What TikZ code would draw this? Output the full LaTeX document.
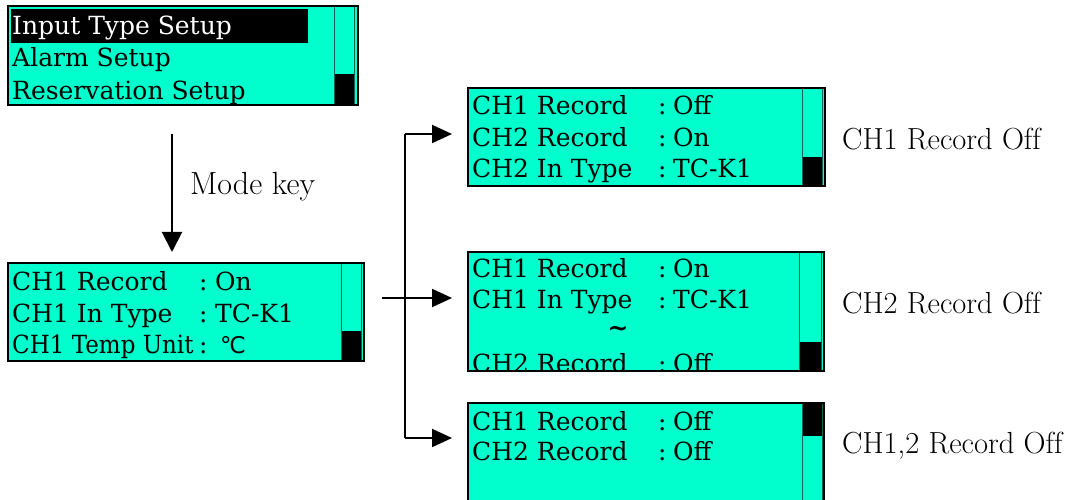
\documentclass[tikz,border=0pt]{standalone}
\usepackage{fontspec}
\setmainfont{Latin Modern Roman}[Ligatures={TeX,NoCommon}]
\newfontfamily\lcdfont{DejaVu Serif}
\newfontfamily\symfont{DejaVu Sans}
\usetikzlibrary{arrows.meta}
\definecolor{lcdbg}{RGB}{0,255,204}
\definecolor{lcdline}{RGB}{20,100,80}
\tikzset{
  panel/.style={fill=lcdbg, inner sep=0pt, outer sep=0pt, anchor=north west},
  panelborder/.style={draw=black, line width=2.4pt},
  sbar/.style={draw=lcdline, line width=1pt},
  thumb/.style={fill=black},
  lcdtxt/.style={anchor=base west, inner sep=0pt, font=\lcdfont\fontsize{25}{25}\selectfont},
  lbl/.style={anchor=base west, inner sep=0pt, font=\fontsize{30.5}{30.5}\selectfont},
  conn/.style={draw=black, line width=2pt},
  arr/.style={conn, -{Triangle[length=20pt,width=20pt]}},
  barr/.style={conn, -{Triangle[length=20pt,width=18pt]}},
}
\begin{document}
\begin{tikzpicture}[x=1pt,y=-1pt]
\useasboundingbox (0,0) rectangle (1072,500);

% ---------- panel 1 ----------
\node[panel, minimum width=350pt, minimum height=99pt] (p1) at (8,6) {};
\begin{scope}
\clip (p1.north west) rectangle (p1.south east);
\fill[black] (11,9) rectangle (308,43);
\node[lcdtxt, text=white] (p1a) at (12,35) {Input Type Setup};
\node[lcdtxt] (p1b) at (12,67) {Alarm Setup};
\node[lcdtxt] (p1c) at (12,100) {Reservation Setup};
\draw[sbar] (334,6) rectangle (354,105);
\fill[thumb] (335,74) rectangle (353.5,105);
\end{scope}
\draw[panelborder] (p1.north west) rectangle (p1.south east);

% ---------- panel 2 ----------
\node[panel, minimum width=356pt, minimum height=98pt] (p2) at (8,263) {};
\begin{scope}
\clip (p2.north west) rectangle (p2.south east);
\node[lcdtxt] (p2a) at (12,290) {CH1 Record};
\node[lcdtxt] (p2ac) at (199,290) {:};
\node[lcdtxt] (p2av) at (215,290) {On};
\node[lcdtxt] (p2b) at (12,322) {CH1 In Type};
\node[lcdtxt] (p2bc) at (199,322) {:};
\node[lcdtxt] (p2bv) at (215,322) {TC-K1};
\node[lcdtxt] (p2c) at (12,353) {\scalebox{0.92}[1]{CH1 Temp Unit}};
\node[lcdtxt] (p2cc) at (199,353) {:};
\node[lcdtxt, font=\symfont\fontsize{23}{23}\selectfont] (p2cv) at (220,353) {℃};
\draw[sbar] (341,263) rectangle (361,361);
\fill[thumb] (342,331) rectangle (360.5,361);
\end{scope}
\draw[panelborder] (p2.north west) rectangle (p2.south east);

% ---------- panel 3 ----------
\node[panel, minimum width=357pt, minimum height=98pt] (p3) at (468,88) {};
\begin{scope}
\clip (p3.north west) rectangle (p3.south east);
\node[lcdtxt] (p3a) at (472,115) {CH1 Record};
\node[lcdtxt] (p3ac) at (658,115) {:};
\node[lcdtxt] (p3av) at (673,115) {Off};
\node[lcdtxt] (p3b) at (472,147) {CH2 Record};
\node[lcdtxt] (p3bc) at (658,147) {:};
\node[lcdtxt] (p3bv) at (673,147) {On};
\node[lcdtxt] (p3c) at (472,178) {CH2 In Type};
\node[lcdtxt] (p3cc) at (658,178) {:};
\node[lcdtxt] (p3cv) at (673,178) {TC-K1};
\draw[sbar] (802,88) rectangle (822,186);
\fill[thumb] (803,157) rectangle (821.5,186);
\end{scope}
\draw[panelborder] (p3.north west) rectangle (p3.south east);

% ---------- panel 4 ----------
\node[panel, minimum width=356pt, minimum height=119pt] (p4) at (468,252) {};
\begin{scope}
\clip (p4.north west) rectangle (p4.south east);
\node[lcdtxt] (p4a) at (472,277) {CH1 Record};
\node[lcdtxt] (p4ac) at (658,277) {:};
\node[lcdtxt] (p4av) at (673,277) {On};
\node[lcdtxt] (p4b) at (472,308) {CH1 In Type};
\node[lcdtxt] (p4bc) at (658,308) {:};
\node[lcdtxt] (p4bv) at (673,308) {TC-K1};
\node[lcdtxt, anchor=center, font=\lcdfont\bfseries\fontsize{25}{25}\selectfont] (p4t) at (618,331) {\textasciitilde};
\node[lcdtxt] (p4d) at (472,372) {CH2 Record};
\node[lcdtxt] (p4dc) at (658,372) {:};
\node[lcdtxt] (p4dv) at (673,372) {Off};
\draw[sbar] (799,252) rectangle (821,371);
\fill[thumb] (800,342) rectangle (820.5,371);
\end{scope}
\draw[panelborder] (p4.north west) rectangle (p4.south east);

% ---------- panel 5 ----------
\node[panel, minimum width=356pt, minimum height=107pt] (p5) at (468,403) {};
\begin{scope}
\clip (p5.north west) rectangle (p5.south east);
\node[lcdtxt] (p5a) at (472,430) {CH1 Record};
\node[lcdtxt] (p5ac) at (658,430) {:};
\node[lcdtxt] (p5av) at (673,430) {Off};
\node[lcdtxt] (p5b) at (472,460) {CH2 Record};
\node[lcdtxt] (p5bc) at (658,460) {:};
\node[lcdtxt] (p5bv) at (673,460) {Off};
\draw[sbar] (802,403) rectangle (822,510);
\fill[thumb] (803,403) rectangle (821.5,436);
\end{scope}
\draw[panelborder] (p5.north west) rectangle (p5.south east);

% ---------- connectors ----------
\coordinate (mk1) at (172,134);
\coordinate (mk2) at (172,252);
\draw[arr] (mk1) -- (mk2);
\node[lbl, font=\fontsize{32}{32}\selectfont] (mode) at (190,195) {Mode key};

\coordinate (bs) at (382,298);
\coordinate (bt) at (405,134);
\coordinate (bb) at (405,438);
\coordinate (t3) at (452,134);
\coordinate (t4) at (452,298);
\coordinate (t5) at (452,438);
\draw[conn] (bt) -- (bb);
\draw[barr] (bt) -- (t3);
\draw[barr] (bs) -- (t4);
\draw[barr] (bb) -- (t5);

% ---------- labels ----------
\node[lbl] (l3) at (842,150) {CH1 Record Off};
\node[lbl] (l4) at (842,313) {CH2 Record Off};
\node[lbl] (l5) at (842,453) {CH1,2 Record Off};
\end{tikzpicture}
\end{document}
